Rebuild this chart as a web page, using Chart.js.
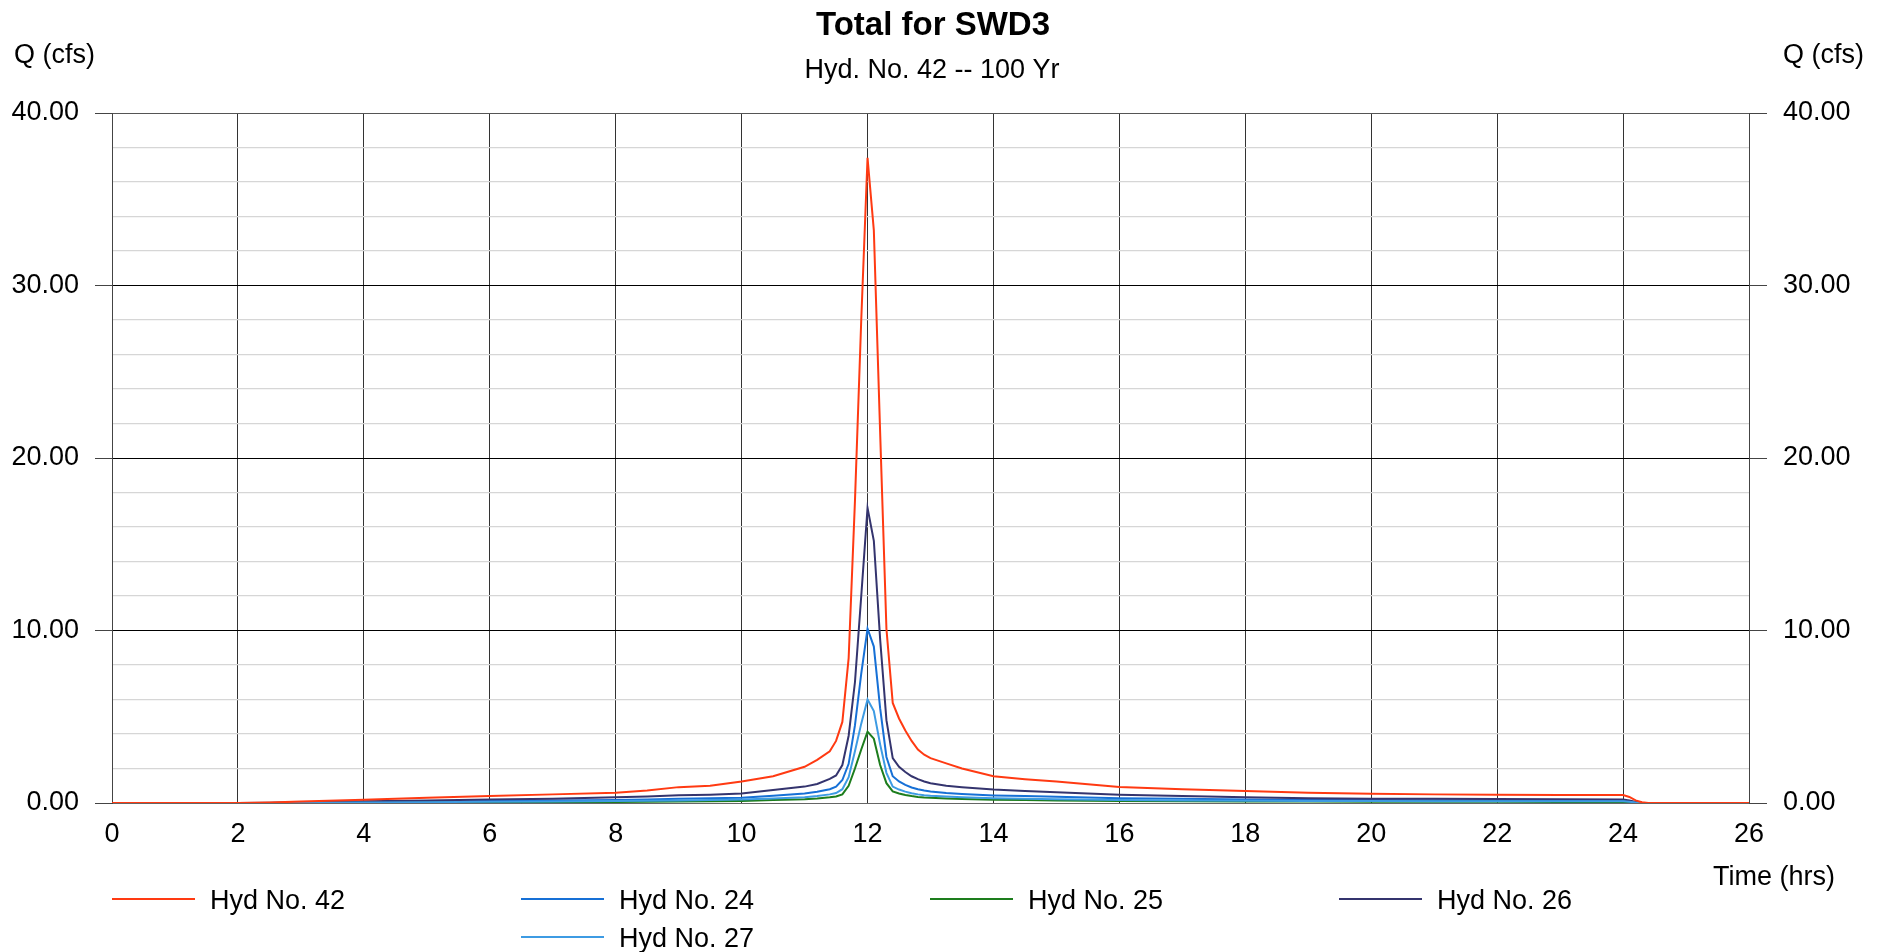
<!DOCTYPE html>
<html>
<head>
<meta charset="utf-8">
<script src="https://cdn.jsdelivr.net/npm/chart.js@4"></script>
<style>
html,body{margin:0;padding:0;background:#fff;}
#wrap{position:relative;width:1885px;height:952px;}
</style>
</head>
<body>
<div id="wrap"><canvas id="c"></canvas></div>
<script>
// ---- data ----
const chartTitle = "Total for SWD3";
const chartSubtitle = "Hyd. No. 42 -- 100 Yr";
const yAxisLabel = "Q (cfs)";
const xAxisLabel = "Time (hrs)";

const timeHrs = [0, 2, 2.5, 3, 4, 5, 6, 7, 8, 8.5, 9, 9.5, 10, 10.5, 11, 11.2, 11.4, 11.5, 11.6, 11.7, 11.8, 11.9, 12.0, 12.1, 12.2, 12.3, 12.4, 12.5, 12.6, 12.7, 12.8, 12.9, 13.0, 13.25, 13.5, 14, 14.5, 15, 16, 17, 18, 19, 20, 21, 22, 23, 24, 24.1, 24.2, 24.3, 24.4, 26];

const hyd42 = [0, 0, 0.03, 0.08, 0.19, 0.3, 0.4, 0.5, 0.6, 0.72, 0.92, 1.0, 1.25, 1.55, 2.1, 2.5, 3.0, 3.6, 4.7, 8.4, 17.5, 28, 37.4, 33.2, 21.5, 10.1, 5.8, 4.9, 4.2, 3.6, 3.1, 2.8, 2.6, 2.3, 2.0, 1.55, 1.38, 1.25, 0.93, 0.8, 0.69, 0.6, 0.53, 0.5, 0.48, 0.47, 0.46, 0.35, 0.15, 0.04, 0, 0];
const hyd24 = [0, 0, 0.005, 0.02, 0.05, 0.08, 0.11, 0.14, 0.18, 0.21, 0.25, 0.27, 0.31, 0.42, 0.55, 0.65, 0.8, 0.95, 1.33, 2.27, 4.5, 7.5, 10.1, 9.07, 5.5, 2.67, 1.55, 1.25, 1.05, 0.9, 0.8, 0.72, 0.67, 0.58, 0.52, 0.44, 0.4, 0.36, 0.28, 0.24, 0.2, 0.18, 0.17, 0.16, 0.16, 0.15, 0.15, 0.1, 0.04, 0.01, 0, 0];
const hyd25 = [0, 0, 0, 0.005, 0.015, 0.025, 0.035, 0.05, 0.06, 0.07, 0.09, 0.1, 0.12, 0.17, 0.22, 0.26, 0.33, 0.38, 0.5, 1.0, 2.0, 3.1, 4.13, 3.73, 2.2, 1.15, 0.67, 0.55, 0.46, 0.4, 0.35, 0.32, 0.3, 0.26, 0.23, 0.19, 0.17, 0.15, 0.12, 0.1, 0.09, 0.08, 0.07, 0.07, 0.07, 0.06, 0.06, 0.04, 0.02, 0.005, 0, 0];
const hyd26 = [0, 0, 0.01, 0.04, 0.1, 0.15, 0.2, 0.25, 0.33, 0.38, 0.45, 0.48, 0.55, 0.75, 0.95, 1.1, 1.4, 1.6, 2.2, 3.9, 7.0, 12.0, 17.1, 15.2, 9.5, 4.8, 2.6, 2.1, 1.8, 1.55, 1.38, 1.25, 1.15, 1.0, 0.92, 0.78, 0.7, 0.62, 0.48, 0.4, 0.33, 0.28, 0.25, 0.24, 0.23, 0.22, 0.21, 0.15, 0.06, 0.01, 0, 0];
const hyd27 = [0, 0, 0.003, 0.012, 0.03, 0.05, 0.07, 0.09, 0.11, 0.13, 0.15, 0.17, 0.2, 0.26, 0.34, 0.4, 0.5, 0.58, 0.8, 1.5, 3.0, 4.6, 6.0, 5.33, 3.4, 1.75, 0.95, 0.78, 0.66, 0.57, 0.5, 0.45, 0.42, 0.37, 0.33, 0.28, 0.25, 0.22, 0.18, 0.15, 0.13, 0.12, 0.11, 0.1, 0.1, 0.1, 0.1, 0.07, 0.03, 0.01, 0, 0];

const seriesNames = ["Hyd No. 42", "Hyd No. 24", "Hyd No. 25", "Hyd No. 26", "Hyd No. 27"];
const seriesValues = [hyd42, hyd24, hyd25, hyd26, hyd27];
const seriesColors = ["#ff3a12", "#1670d6", "#1d7d1d", "#34346e", "#3d9be3"];

const xMin = 0, xMax = 26, xStep = 2;
const yMin = 0, yMax = 40, yStep = 2, yMajor = 10;

// ---- chart ----
const FONT = "'Liberation Sans', Arial, sans-serif";
const datasets = seriesNames.map((name, i) => ({
  label: name,
  data: timeHrs.map((t, k) => ({x: t, y: seriesValues[i][k]})),
  borderColor: seriesColors[i],
  backgroundColor: seriesColors[i],
  borderWidth: 2,
  pointRadius: 0,
  tension: 0,
  fill: false
}));
datasets.forEach((d, i) => d.order = i === 0 ? 0 : 10 - i);

const isMajor = v => Math.abs(v % yMajor) < 1e-6;

const textPlugin = {
  id: 'texts',
  afterDraw(chart) {
    const ctx = chart.ctx;
    ctx.save();
    ctx.fillStyle = '#000';
    ctx.textBaseline = 'alphabetic';
    ctx.textAlign = 'center';
    ctx.font = "bold 33px " + FONT;
    ctx.fillText(chartTitle, 933, 35);
    ctx.font = "27px " + FONT;
    ctx.fillText(chartSubtitle, 932, 78);
    ctx.textAlign = 'left';
    ctx.fillText(yAxisLabel, 14, 63);
    ctx.fillText(yAxisLabel, 1783, 63);
    ctx.textAlign = 'right';
    ctx.fillText(xAxisLabel, 1835, 885);
    // legend: 4 columns, second row starts in the second column
    const colX = [112, 521, 930, 1339];
    const slots = [[0, 0], [1, 0], [2, 0], [3, 0], [1, 1]];
    const rowY = [899, 937];
    ctx.textAlign = 'left';
    seriesNames.forEach((name, i) => {
      const cx = colX[slots[i][0]], cy = rowY[slots[i][1]];
      ctx.strokeStyle = seriesColors[i];
      ctx.lineWidth = 2;
      ctx.beginPath();
      ctx.moveTo(cx, cy);
      ctx.lineTo(cx + 83, cy);
      ctx.stroke();
      ctx.fillStyle = '#000';
      ctx.fillText(name, cx + 98, cy + 10);
    });
    ctx.restore();
  }
};

new Chart(document.getElementById('c'), {
  type: 'line',
  data: {datasets},
  plugins: [textPlugin],
  options: {
    responsive: true,
    maintainAspectRatio: false,
    animation: false,
    layout: {padding: {top: 113, left: 0, right: 0, bottom: 0}},
    plugins: {legend: {display: false}, title: {display: false}, tooltip: {enabled: false}},
    scales: {
      x: {
        type: 'linear', min: xMin, max: xMax,
        ticks: {stepSize: xStep, color: '#000', font: {family: FONT, size: 27}, padding: 15, maxRotation: 0, autoSkip: false},
        grid: {color: '#333', lineWidth: 1, drawTicks: false},
        border: {display: true, color: '#666', width: 1},
        afterFit(s) { s.height = 149; }
      },
      y: {
        type: 'linear', position: 'left', min: yMin, max: yMax,
        ticks: {stepSize: yStep, autoSkip: false, color: '#000', font: {family: FONT, size: 27}, padding: 16,
          callback: v => isMajor(v) ? v.toFixed(2) : ''},
        grid: {
          color: c => (c.tick && isMajor(c.tick.value)) ? (c.tick.value === yMax || c.tick.value === 0 ? '#555' : '#000') : '#d6d6d6',
          lineWidth: c => (c.tick && isMajor(c.tick.value)) ? 1 : 1.3,
          tickColor: c => (c.tick && isMajor(c.tick.value)) ? '#444' : 'rgba(0,0,0,0)',
          tickLength: 17
        },
        border: {display: true, color: '#444', width: 1},
        afterFit(s) { s.width = 112; }
      },
      y2: {
        type: 'linear', position: 'right', min: yMin, max: yMax,
        ticks: {stepSize: yStep, autoSkip: false, color: '#000', font: {family: FONT, size: 27}, padding: 16,
          callback: v => isMajor(v) ? v.toFixed(2) : ''},
        grid: {drawOnChartArea: false,
          tickColor: c => (c.tick && isMajor(c.tick.value)) ? '#444' : 'rgba(0,0,0,0)',
          tickLength: 18},
        border: {display: true, color: '#444', width: 1},
        afterFit(s) { s.width = 136; }
      }
    }
  }
});
</script>
</body>
</html>
